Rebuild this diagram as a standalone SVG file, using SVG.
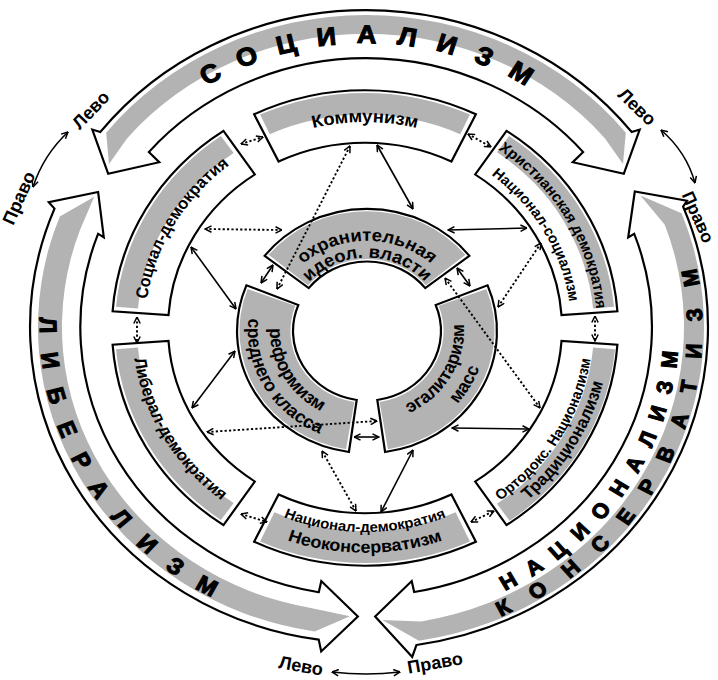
<svg xmlns="http://www.w3.org/2000/svg" width="718" height="680" viewBox="0 0 718 680">
<defs>
<style>
  .shape{fill:#fff;stroke:#000;stroke-width:2.2;stroke-linejoin:miter}
  .band{fill:#b3b3b3}
  .t{font-family:"Liberation Sans",Arial,sans-serif;font-weight:bold;fill:#000}
  .cap{font-family:"Liberation Sans",Arial,sans-serif;font-weight:bold;fill:#000;stroke:#000;stroke-width:1.2}
  .link{fill:none;stroke:#000;stroke-width:1.6;marker-start:url(#ah);marker-end:url(#ah)}
  .dot{stroke-dasharray:2.2 2.2;stroke-width:1.9}
</style>
<marker id="ah" viewBox="0 0 8 8" refX="7.5" refY="4" markerWidth="8" markerHeight="8" markerUnits="userSpaceOnUse" orient="auto-start-reverse">
  <path d="M1,0.8 L7.5,4 L1,7.2" fill="none" stroke="#000" stroke-width="1.5"/>
</marker>
<!-- outer ring text arcs (centre 366,327) -->
<path id="tp-soc" d="M-213.5,-213.5 A302,302 0 0 1 213.5,-213.5"/>
<path id="tp-lib" d="M-314.9,-84.4 A326,326 0 0 0 -84.4,314.9"/>
<path id="tp-nat" d="M62.4,306.7 A313,313 0 0 0 306.7,-62.4"/>
<path id="tp-kon" d="M99.4,321 A336,336 0 0 0 321,-99.4"/>
<!-- middle ring text arcs (centre 365,328) -->
<path id="tp-komm" d="M-140.8,-167.8 A219,219 0 0 1 140.8,-167.8"/>
<path id="tp-hr1" d="M79.3,-218 A232,232 0 0 1 228.5,40.3"/>
<path id="tp-hr2" d="M70.5,-193.6 A206,206 0 0 1 202.9,35.8"/>
<path id="tp-or1" d="M74.2,215.6 A228,228 0 0 0 225.2,-35.7"/>
<path id="tp-or2" d="M79.8,231.6 A245,245 0 0 0 242,-38.3"/>
<path id="tp-nd1" d="M-139.5,166.2 A217,217 0 0 0 139.5,166.2"/>
<path id="tp-nd2" d="M-153.6,183.1 A239,239 0 0 0 153.6,183.1"/>
<path id="tp-sd" d="M-216.7,38.2 A220,220 0 0 1 -75.2,-206.7"/>
<path id="tp-ld" d="M-229.5,-40.4 A233,233 0 0 0 -79.7,218.9"/>
<!-- core ring text arcs (centre 367,331) -->
<path id="tp-oh1" d="M-90.2,-32.8 A96,96 0 0 1 90.2,-32.8"/>
<path id="tp-oh2" d="M-73.3,-26.7 A78,78 0 0 1 73.3,-26.7"/>
<path id="tp-rf1" d="M-74.3,-62.4 A97,97 0 0 0 16.8,95.5"/>
<path id="tp-rf2" d="M-91.2,-76.5 A119,119 0 0 0 20.7,117.2"/>
<path id="tp-eg1" d="M-16.8,95.5 A97,97 0 0 0 74.3,-62.4"/>
<path id="tp-eg2" d="M-20.7,117.2 A119,119 0 0 0 91.2,-76.5"/>
</defs>

<rect width="718" height="680" fill="#fff"/>

<!-- outer ring: three curved double-headed arrows -->
<g id="outer-ring" transform="translate(366,327) scale(1,0.94)">
  <g id="arrow-socialism">
    <path class="shape" d="M-265.6,-207.5 A337,337 0 0 1 265.6,-207.5 L273.7,-210 L257.8,-163 L206.7,-175.3 L217.2,-186.1 A286,286 0 0 0 -217.2,-186.1 L-206.7,-175.3 L-257.8,-163 L-273.7,-210 Z"/>
    <path class="band" d="M-259.8,-206.7 A332,332 0 0 1 259.8,-206.7 L257,-173.4 L239,-200.6 A312,312 0 0 0 -239,-200.6 L-257,-173.4 Z"/>
    <text class="cap" font-size="27" letter-spacing="20" text-anchor="middle"><textPath href="#tp-soc" startOffset="247">СОЦИАЛИЗМ</textPath></text>
  </g>
  <g id="arrow-liberalism">
    <path class="shape" d="M-311.5,-125.9 A336,336 0 0 0 -47.3,332.6 L-44.8,345.1 L-8.1,307.9 L-44.7,270.3 L-47.2,282.1 A286,286 0 0 1 -267.9,-99.2 L-262.2,-95.4 L-267.9,-143.7 L-317.3,-132.8 Z"/>
    <path class="band" d="M-306.2,-117.6 A328,328 0 0 0 -51.3,324 L-16.1,307.6 L-52.8,299.4 A304,304 0 0 1 -285.7,-104 L-271.8,-138.5 Z"/>
    <text class="cap" font-size="24" letter-spacing="21.5" text-anchor="middle"><textPath href="#tp-lib" startOffset="266.8">ЛИБЕРАЛИЗМ</textPath></text>
  </g>
  <g id="arrow-nationalism">
    <path class="shape" d="M317.1,-128.1 A342,342 0 0 1 50.5,338.2 L46.2,351 L9.1,307.9 L45.7,270.2 L48.2,281.9 A286,286 0 0 0 268.2,-99.2 L262.2,-95.4 L268.8,-144.1 L321,-134.3 Z"/>
    <path class="band" d="M315.6,-121.1 A338,338 0 0 1 52.9,333.8 L16.3,311.6 L55.2,313.2 A318,318 0 0 0 298.8,-108.8 L274.4,-139.8 Z"/>
    <text class="cap" font-size="22" letter-spacing="14.5" text-anchor="middle"><textPath href="#tp-nat" startOffset="249">НАЦИОНАЛИЗМ</textPath></text>
    <text class="cap" font-size="22" letter-spacing="24.5" text-anchor="middle"><textPath href="#tp-kon" startOffset="276">КОНСЕРВАТИЗМ</textPath></text>
  </g>
</g>

<!-- middle ring: six ideology sectors -->
<g id="middle-ring" transform="translate(365,328) scale(1,0.94)">
  <g id="node-kommunizm">
    <path class="shape" d="M-110.9,-227.4 A253,253 0 0 1 110.9,-227.4 L86.4,-177.1 A197,197 0 0 0 -86.4,-177.1 Z"/>
    <path class="band" d="M-104.9,-227 A250,250 0 0 1 104.9,-227 L95.2,-206.1 A227,227 0 0 0 -95.2,-206.1 Z"/>
    <text class="t" font-size="18.5" text-anchor="middle"><textPath href="#tp-komm" startOffset="50%">Коммунизм</textPath></text>
  </g>
  <g id="node-christian-democracy">
    <path class="shape" d="M141.5,-209.7 A253,253 0 0 1 252.4,-17.7 L196.5,-13.8 A197,197 0 0 0 110.2,-163.3 Z"/>
    <path class="band" d="M144.1,-204.3 A250,250 0 0 1 249,-22.7 L228.1,-20.7 A229,229 0 0 0 132,-187.1 Z"/>
    <text class="t" font-size="15.5" text-anchor="middle"><textPath href="#tp-hr1" startOffset="50%">Христианская демократия</textPath></text>
    <text class="t" font-size="15" text-anchor="middle"><textPath href="#tp-hr2" startOffset="50%">Национал-социализм</textPath></text>
  </g>
  <g id="node-orthodox">
    <path class="shape" d="M252.4,17.7 A253,253 0 0 1 141.5,209.7 L110.2,163.3 A197,197 0 0 0 196.5,13.8 Z"/>
    <path class="band" d="M250,22.7 A251,251 0 0 1 144.7,205.1 L132,187.1 A229,229 0 0 0 228.1,20.7 Z"/>
    <text class="t" font-size="15" text-anchor="middle"><textPath href="#tp-or1" startOffset="50%">Ортодокс. Национализм</textPath></text>
    <text class="t" font-size="17.5" text-anchor="middle"><textPath href="#tp-or2" startOffset="50%">Традиционализм</textPath></text>
  </g>
  <g id="node-national-democracy">
    <path class="shape" d="M110.9,227.4 A253,253 0 0 1 -110.9,227.4 L-86.4,177.1 A197,197 0 0 0 86.4,177.1 Z"/>
    <path class="band" d="M104.9,227 A250,250 0 0 1 -104.9,227 L-90.6,196.1 A216,216 0 0 0 90.6,196.1 Z"/>
    <text class="t" font-size="15" text-anchor="middle"><textPath href="#tp-nd1" startOffset="50%">Национал-демократия</textPath></text>
    <text class="t" font-size="18" text-anchor="middle"><textPath href="#tp-nd2" startOffset="50%">Неоконсерватизм</textPath></text>
  </g>
  <g id="node-liberal-democracy">
    <path class="shape" d="M-141.5,209.7 A253,253 0 0 1 -252.4,17.7 L-196.5,13.8 A197,197 0 0 0 -110.2,163.3 Z"/>
    <path class="band" d="M-144.1,204.3 A250,250 0 0 1 -249,22.7 L-227.1,20.7 A228,228 0 0 0 -131.4,186.3 Z"/>
    <text class="t" font-size="17" text-anchor="middle"><textPath href="#tp-ld" startOffset="50%">Либерал-демократия</textPath></text>
  </g>
  <g id="node-social-democracy">
    <path class="shape" d="M-252.4,-17.7 A253,253 0 0 1 -141.5,-209.7 L-110.2,-163.3 A197,197 0 0 0 -196.5,-13.8 Z"/>
    <path class="band" d="M-249,-22.7 A250,250 0 0 1 -144.1,-204.3 L-131.4,-186.3 A228,228 0 0 0 -227.1,-20.7 Z"/>
    <text class="t" font-size="17" text-anchor="middle"><textPath href="#tp-sd" startOffset="50%">Социал-демократия</textPath></text>
  </g>
</g>

<!-- core ring: three sources -->
<g id="core-ring" transform="translate(367,331) scale(1,0.94)">
  <g id="node-protective">
    <path class="shape" d="M-102.4,-80 A130,130 0 0 1 102.4,-80 L58.3,-45.6 A74,74 0 0 0 -58.3,-45.6 Z"/>
    <path class="band" d="M-98.4,-81.1 A127.5,127.5 0 0 1 98.4,-81.1 L59,-48.7 A76.5,76.5 0 0 0 -59,-48.7 Z"/>
    <text class="t" font-size="18.5" text-anchor="middle"><textPath href="#tp-oh1" startOffset="50%">охранительная</textPath></text>
    <text class="t" font-size="18.5" text-anchor="middle"><textPath href="#tp-oh2" startOffset="50%">идеол. власти</textPath></text>
  </g>
  <g id="node-reformism">
    <path class="shape" d="M-18.1,128.7 A130,130 0 0 1 -120.5,-48.7 L-68.6,-27.7 A74,74 0 0 0 -10.3,73.3 Z"/>
    <path class="band" d="M-21,125.8 A127.5,127.5 0 0 1 -119.4,-44.7 L-71.7,-26.8 A76.5,76.5 0 0 0 -12.6,75.5 Z"/>
    <text class="t" font-size="18.5" text-anchor="middle"><textPath href="#tp-rf1" startOffset="50%">реформизм</textPath></text>
    <text class="t" font-size="18.5" text-anchor="middle"><textPath href="#tp-rf2" startOffset="50%">среднего класса</textPath></text>
  </g>
  <g id="node-egalitarianism">
    <path class="shape" d="M120.5,-48.7 A130,130 0 0 1 18.1,128.7 L10.3,73.3 A74,74 0 0 0 68.6,-27.7 Z"/>
    <path class="band" d="M119.4,-44.7 A127.5,127.5 0 0 1 21,125.8 L12.6,75.5 A76.5,76.5 0 0 0 71.7,-26.8 Z"/>
    <text class="t" font-size="18.5" text-anchor="middle"><textPath href="#tp-eg1" startOffset="50%">эгалитаризм</textPath></text>
    <text class="t" font-size="18.5" text-anchor="middle"><textPath href="#tp-eg2" startOffset="50%">масс</textPath></text>
  </g>
</g>

<!-- connectors -->
<g id="connectors">
  <path class="link" d="M377,145 L413,209"/>
  <path class="link" d="M191,247 L236,309"/>
  <path class="link" d="M192,408 L235,351"/>
  <path class="link" d="M448,230 L527,228"/>
  <path class="link" d="M452,428 L529,429"/>
  <path class="link" d="M381,512 L413,450"/>
  <path class="link" d="M261,283 L273,265"/>
  <path class="link" d="M457,268 L470,286"/>
  <path class="link" d="M354,437 L379,437"/>
  <path class="link dot" d="M350,146 L277,289"/>
  <path class="link dot" d="M205,229 L282,230"/>
  <path class="link dot" d="M207,432 L377,421"/>
  <path class="link dot" d="M356,511 L322,451"/>
  <path class="link dot" d="M540,408 L445,278"/>
  <path class="link dot" d="M541,243 L498,307"/>
  <path class="link dot" d="M241,144 L263,137"/>
  <path class="link dot" d="M468,134 L491,147"/>
  <path class="link dot" d="M595,316 L595,341"/>
  <path class="link dot" d="M471,522 L494,511"/>
  <path class="link dot" d="M241,514 L267,522"/>
  <path class="link dot" d="M137,317 L137,343"/>
  <!-- left/right junction arrows -->
  <path class="link" d="M68,132 Q43.5,155 33,187"/>
  <path class="link" d="M661,130 Q686.5,152 695,183"/>
  <path class="link" d="M332,672 Q366,676 400,672"/>
</g>

<!-- junction labels -->
<g id="junction-labels">
  <text class="t" font-size="18" text-anchor="middle" transform="translate(91,110) rotate(-46)" y="6">Лево</text>
  <text class="t" font-size="18" text-anchor="middle" transform="translate(19,198) rotate(-66)" y="6">Право</text>
  <text class="t" font-size="18" text-anchor="middle" transform="translate(637,107) rotate(44)" y="6">Лево</text>
  <text class="t" font-size="17.5" text-anchor="middle" transform="translate(698,217) rotate(66)" y="6">Право</text>
  <text class="t" font-size="18" text-anchor="middle" transform="translate(301,666) rotate(10)" y="6">Лево</text>
  <text class="t" font-size="18" text-anchor="middle" transform="translate(435,663) rotate(-10)" y="6">Право</text>
</g>
</svg>
